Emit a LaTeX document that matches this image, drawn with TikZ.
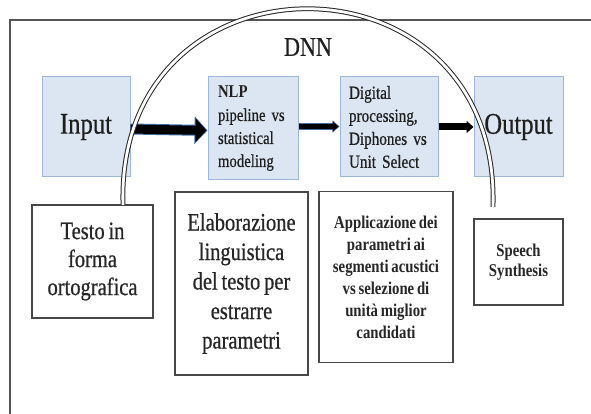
\documentclass[tikz,border=0pt]{standalone}
\usepackage{fontspec}
\setmainfont{Liberation Serif}[FakeStretch=0.82, WordSpace=0.75, UprightFeatures={FakeBold=0.6}]
\usetikzlibrary{arrows.meta}
\definecolor{boxfill}{HTML}{DCE6F2}
\definecolor{boxline}{HTML}{9DB7D9}
\definecolor{frameline}{HTML}{555555}
\definecolor{arrowedge}{HTML}{3F6FA8}
\begin{document}
\begin{tikzpicture}[x=1pt,y=-1pt,
  bluebox/.style={draw=boxline, fill=boxfill, line width=1pt, text=black!88, inner sep=0pt},
  whitebox/.style={draw=black!72, fill=white, line width=1.8pt, text=black!85, align=center, inner sep=0pt},
  frame/.style={draw=frameline, line width=2pt},
  dnnarc/.style={draw=black!85, double=white, double distance=2.8pt, line width=1pt}
]
\useasboundingbox (0,0) rectangle (591,414);
\draw[frame] (10,416) -- (10,20) -- (593,20);

\node[bluebox, minimum width=88pt, minimum height=100pt, font=\fontsize{30}{34}\selectfont] (in) at (86,127) {Input};
\node[bluebox, minimum width=90pt, minimum height=103pt, text width=70pt, inner xsep=10pt, align=left, font=\fontsize{18}{23}\selectfont] (nlp) at (253,128.5) {{\bfseries NLP}\\pipeline vs\\statistical\\modeling};
\node[bluebox, minimum width=98pt, minimum height=100pt, text width=80pt, inner xsep=9pt, align=left, font=\fontsize{18.5}{23}\selectfont] (dig) at (389,127) {Digital\\processing,\\Diphones vs\\Unit Select};
\node[bluebox, minimum width=89pt, minimum height=100pt, font=\fontsize{30}{34}\selectfont] (out) at (518.5,127) {Output};

\node[font=\fontsize{27}{30}\selectfont, text=black!88] (dnn) at (308,47) {DNN};

\node[whitebox, minimum width=121pt, minimum height=113pt, font=\fontsize{25}{28}\selectfont] (testo) at (92.5,261.5) {Testo in\\forma\\ortografica};
\node[whitebox, minimum width=133pt, minimum height=183pt, font=\fontsize{25}{29.5}\selectfont] (elab) at (241.5,283.5) {Elaborazione\\linguistica\\del testo per\\estrarre\\parametri};
\node[whitebox, minimum width=134pt, minimum height=171pt, font=\bfseries\fontsize{18}{22}\selectfont] (appl) at (386,277) {Applicazione dei\\parametri ai\\segmenti acustici\\vs selezione di\\unità miglior\\candidati};
\node[whitebox, minimum width=89pt, minimum height=86pt, font=\bfseries\fontsize{18}{20.5}\selectfont] (speech) at (518.5,262) {Speech\\Synthesis};

\draw[line width=11pt, arrowedge, -{Triangle[length=13pt,width=27pt]}] ([yshift=-2pt]in.east) -- ([yshift=-2pt]nlp.west);
\draw[line width=9pt, black, shorten >=1pt, -{Triangle[length=11pt,width=23pt]}] ([yshift=-2pt]in.east) -- ([yshift=-2pt]nlp.west);
\draw[line width=7pt, arrowedge, -{Triangle[length=7pt,width=12pt]}] (nlp.east |- 0,126.5) -- (dig.west |- 0,126.5);
\draw[line width=5.5pt, black, shorten >=1pt, -{Triangle[length=6pt,width=10pt]}] (nlp.east |- 0,126.5) -- (dig.west |- 0,126.5);
\draw[line width=7pt, black, -{Triangle[length=7pt,width=12pt]}] (dig.east |- 0,127) -- (out.west |- 0,127);

\coordinate (arcL) at (123,205);
\coordinate (arcR) at (493,207);
\draw[dnnarc] (arcL) .. controls (115,-57) and (501,-57) .. (arcR);
\end{tikzpicture}
\end{document}
